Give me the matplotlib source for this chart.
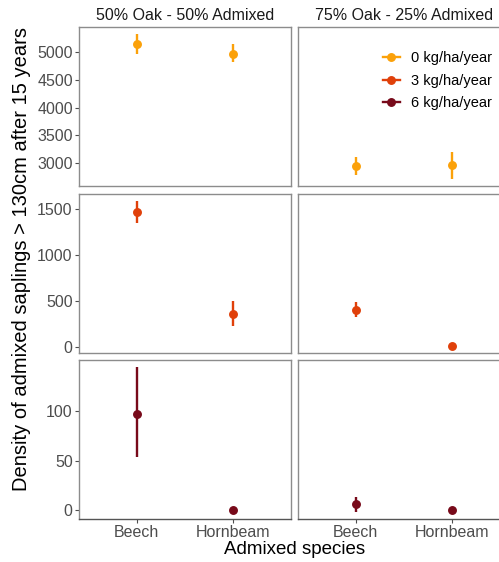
import matplotlib
matplotlib.use("Agg")
import matplotlib.pyplot as plt
from matplotlib.lines import Line2D
import numpy as np

plt.rcParams['font.family'] = ['Liberation Sans', 'DejaVu Sans']

species = ["Beech", "Hornbeam"]
mixtures = ["50% Oak - 50% Admixed", "75% Oak - 25% Admixed"]
levels = ["0 kg/ha/year", "3 kg/ha/year", "6 kg/ha/year"]
colors = ["#FBA10A", "#E0400A", "#780A1A"]

# mean, lower, upper per level (row) x mixture (col) x species
mean_0 = [[5150, 4980], [2950, 2960]]
low_0 = [[4970, 4830], [2770, 2710]]
high_0 = [[5330, 5150], [3110, 3200]]

mean_3 = [[1470, 365], [410, 15]]
low_3 = [[1350, 230], [330, 15]]
high_3 = [[1590, 505], [490, 15]]

mean_6 = [[97.5, 0], [6, 0]]
low_6 = [[54, 0], [-2, 0]]
high_6 = [[145, 0], [13.5, 0]]

means = [mean_0, mean_3, mean_6]
lows = [low_0, low_3, low_6]
highs = [high_0, high_3, high_6]

yticks = [[3000, 3500, 4000, 4500, 5000], [0, 500, 1000, 1500], [0, 50, 100]]

W, H = 499, 562
fig = plt.figure(figsize=(W / 100, H / 100), dpi=100)

cols_px = [(79, 291), (298, 510)]
rows_px = [(27, 186), (194, 353), (360, 519)]

tick_col = "#4D4D4D"
spine_col = "#8C8C8C"
x = np.arange(len(species))

axes = []
for r, (y0, y1) in enumerate(rows_px):
    allv = np.concatenate([np.ravel(lows[r]), np.ravel(highs[r])])
    lo, hi = allv.min(), allv.max()
    rng = hi - lo
    ylim = (lo - 0.05 * rng, hi + 0.05 * rng)
    for c, (x0, x1) in enumerate(cols_px):
        ax = fig.add_axes([x0 / W, 1 - y1 / H, (x1 - x0) / W, (y1 - y0) / H])
        axes.append(ax)
        m = np.array(means[r][c])
        lo_ = np.array(lows[r][c])
        hi_ = np.array(highs[r][c])
        ax.vlines(x, lo_, hi_, color=colors[r], lw=1.7, zorder=2)
        ax.plot(x, m, 'o', color=colors[r], ms=5.4, zorder=3, lw=0)
        ax.set_xlim(-0.6, len(species) - 1 + 0.6)
        ax.set_ylim(*ylim)
        for s in ax.spines.values():
            s.set_color(spine_col)
            s.set_linewidth(1.0)
        ax.set_yticks(yticks[r])
        ax.set_xticks(x)
        ax.tick_params(axis='both', colors=tick_col, labelcolor=tick_col,
                       labelsize=11.5, length=3, width=0.8, pad=1.5)
        if c == 0:
            ax.set_yticklabels([str(t) for t in yticks[r]])
        else:
            ax.tick_params(axis='y', left=False, labelleft=False)
        if r == len(rows_px) - 1:
            ax.set_xticklabels(species)
            ax.spines['bottom'].set_color("#555555")
        else:
            ax.tick_params(axis='x', bottom=False, labelbottom=False)
        if r == 0:
            ax.set_title(mixtures[c], fontsize=11.5, color="#1A1A1A", pad=5)

handles = [Line2D([0], [0], color=col, lw=1.7, marker='o', ms=5.4) for col in colors]
fig.legend(handles, levels, loc='upper left', bbox_to_anchor=(383 / W, 1 - 51 / H),
           bbox_transform=fig.transFigure, frameon=False, fontsize=10.5,
           handlelength=1.15, handletextpad=0.75, labelspacing=0.6,
           borderpad=0, borderaxespad=0)

fig.text(22 / W, 1 - 259 / H, "Density of admixed saplings > 130cm after 15 years",
         rotation=90, ha='center', va='center', fontsize=14.5, color='black')
fig.text(295 / W, 1 - 550 / H, "Admixed species", ha='center', va='center',
         fontsize=13.5, color='black')

fig.savefig("out.png", dpi=100)
